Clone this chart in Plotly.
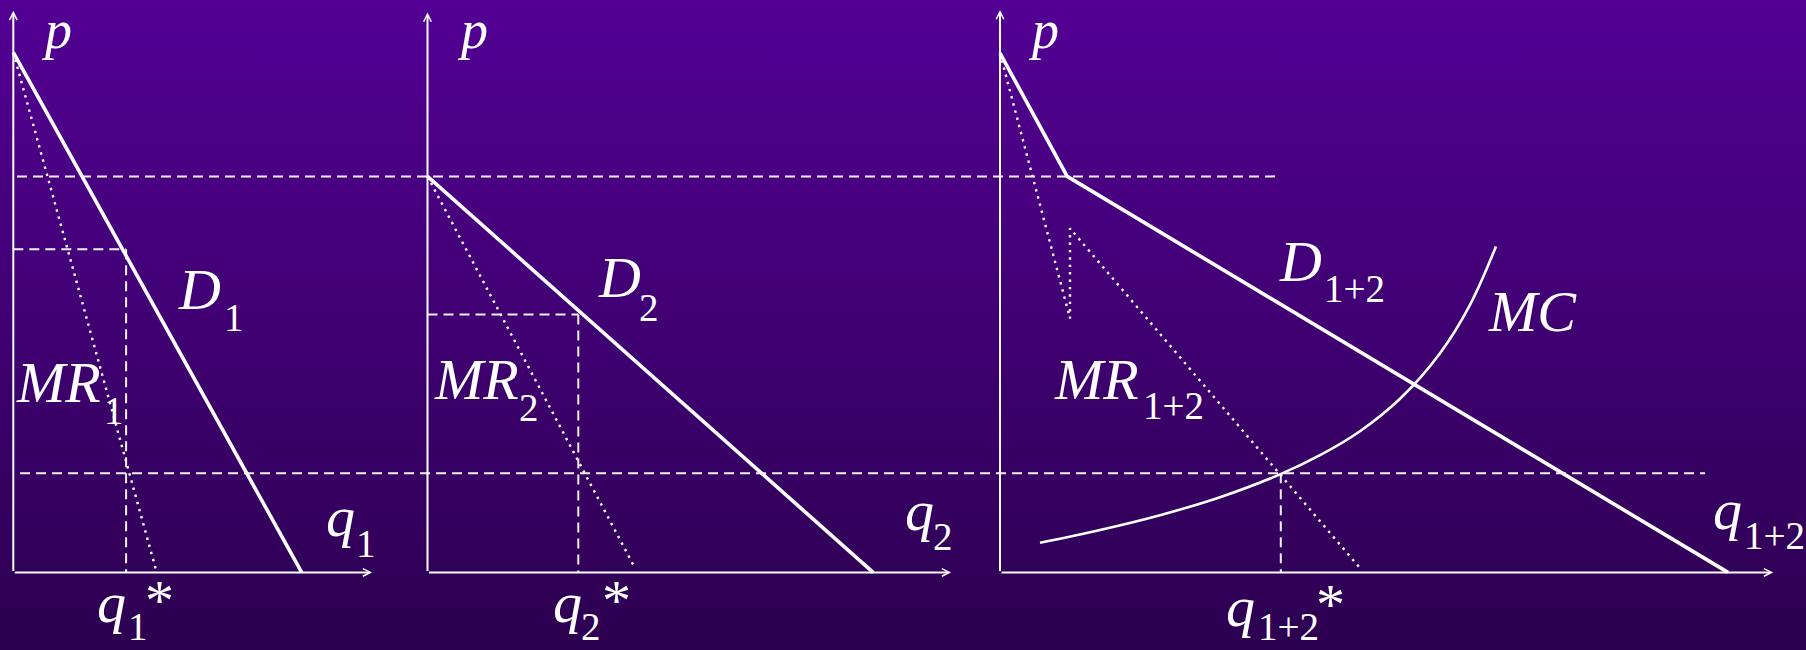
import plotly.graph_objects as go

W, H = 1806, 650

# ---------------- data (price / quantity units) ----------------
PRICE_RANGE = [-1.94, 14.31]

# Market 1
d1_q = [0, 7.21]
d1_p = [13.0, 0]
mr1_q = [0, 3.585]
mr1_p = [13.0, 0]
q1_star = 2.82
p1_star = 8.08

# Market 2
d2_q = [0, 11.14]
d2_p = [9.9, 0]
mr2_q = [0, 5.16]
mr2_p = [9.9, 0.16]
q2_star = 3.77
p2_star = 6.45

# Aggregate market 1+2
d12_q = [0, 1.68, 18.2]
d12_p = [12.98, 9.9, 0]
mr12_q = [0, 1.75, 1.75, 9.05]
mr12_p = [12.98, 6.35, 8.6, 0.05]
mc_q = [1.0, 2.5, 4.0, 5.5, 7.0, 8.0, 9.0, 10.0, 11.0, 11.75, 12.4]
mc_p = [0.74, 1.06, 1.43, 1.88, 2.45, 2.93, 3.53, 4.34, 5.48, 6.69, 8.15]
q12_star = 7.02
mc_level = 2.48
kink_p = 9.9

# axis arrow extents per panel
axis_q_max = [8.97, 13.09, 19.33]
axis_p_max = [14.04, 14.0, 14.06]

# labels: (text, left px, baseline px, size)
BIG, SMALL, PSIZE = 58, 39, 54
labels = [
    ("<i>p</i>", 40, 49, PSIZE),
    ("<i>D</i>", 177, 310, BIG), ("1", 223, 332, SMALL),
    ("<i>MR</i>", 15, 403, BIG), ("1", 103, 425, SMALL),
    ("<i>q</i>", 325, 537, BIG), ("1", 355, 558, SMALL),
    ("<i>q</i>", 96, 623, BIG), ("1", 127, 641, SMALL), ("*", 144, 621, BIG),
    ("<i>p</i>", 456, 49, PSIZE),
    ("<i>D</i>", 597, 298, BIG), ("2", 638, 322, SMALL),
    ("<i>MR</i>", 433, 400, BIG), ("2", 518, 422, SMALL),
    ("<i>q</i>", 904, 531, BIG), ("2", 932, 551, SMALL),
    ("<i>q</i>", 552, 623, BIG), ("2", 580, 641, SMALL), ("*", 601, 621, BIG),
    ("<i>p</i>", 1027, 49, PSIZE),
    ("<i>D</i>", 1278, 282, BIG), ("1+2", 1323, 303, SMALL),
    ("<i>MC</i>", 1487, 332, BIG),
    ("<i>MR</i>", 1053, 400, BIG), ("1+2", 1142, 420, SMALL),
    ("<i>q</i>", 1712, 530, BIG), ("1+2", 1743, 550, SMALL),
    ("<i>q</i>", 1225, 627, BIG), ("1+2", 1257, 641, SMALL), ("*", 1315, 625, BIG),
]

# ---------------- layout helpers ----------------
PX_PER_UNIT = 40.0
origins = [13.3, 427.5, 1000.0]          # pixel x of each panel's origin
xaxes = ["x2", "x3", "x4"]

WHITE = "white"
DASHED = dict(color="#f2f2f2", width=2, dash="10px,6px")
DOTTED = dict(color=WHITE, width=2.4, dash="2.4px,5px")
SOLID = dict(color=WHITE, width=3.6)

fig = go.Figure()

# background gradient
fig.add_trace(go.Scatter(
    x=[0, 1, 1, 0, 0],
    y=[PRICE_RANGE[0], PRICE_RANGE[0], PRICE_RANGE[1], PRICE_RANGE[1], PRICE_RANGE[0]],
    xaxis="x", yaxis="y", mode="lines", line=dict(width=0), fill="toself",
    fillcolor="#3e006e",
    fillgradient=dict(type="vertical", colorscale=[[0, "#2c0050"], [1, "#530094"]]),
    hoverinfo="skip", showlegend=False))


def line(xa, q, p, style, shape="linear"):
    fig.add_trace(go.Scatter(x=q, y=p, xaxis=xa, yaxis="y", mode="lines",
                             line=dict(**style, shape=shape), hoverinfo="skip",
                             showlegend=False))


# Panel 1
line("x2", mr1_q, mr1_p, DOTTED)
line("x2", [0, q1_star], [p1_star, p1_star], DASHED)
line("x2", [q1_star, q1_star], [p1_star, 0], DASHED)
line("x2", d1_q, d1_p, SOLID)

# Panel 2
line("x3", mr2_q, mr2_p, DOTTED)
line("x3", [0, q2_star], [p2_star, p2_star], DASHED)
line("x3", [q2_star, q2_star], [p2_star, 0], DASHED)
line("x3", d2_q, d2_p, SOLID)

# Panel 3
line("x4", mr12_q, mr12_p, DOTTED)
line("x4", [q12_star, q12_star], [mc_level, 0], DASHED)
line("x4", mc_q, mc_p, dict(color=WHITE, width=2.6), shape="spline")
line("x4", d12_q, d12_p, SOLID)

# long horizontal dashed guides across panels
shapes = [
    dict(type="line", xref="x", yref="y", x0=17 / W, x1=1280 / W, y0=kink_p, y1=kink_p,
         line=DASHED, layer="above"),
    dict(type="line", xref="x", yref="y", x0=20 / W, x1=1705 / W, y0=mc_level, y1=mc_level,
         line=DASHED, layer="above"),
]

annotations = []
# axes with arrowheads
for xa, qm, pm in zip(xaxes, axis_q_max, axis_p_max):
    for (tx, ty) in [(qm, 0), (0, pm)]:
        annotations.append(dict(
            x=tx, y=ty, ax=0, ay=0, xref=xa, yref="y", axref=xa, ayref="y",
            text="", showarrow=True, arrowhead=5, arrowsize=0.75, arrowwidth=2,
            arrowcolor=WHITE, standoff=0, startstandoff=0))

for txt, left, base, size in labels:
    bottom = base + 0.216 * size
    annotations.append(dict(
        x=left / W, y=1 - bottom / H, xref="paper", yref="paper",
        xanchor="left", yanchor="bottom", text=txt, showarrow=False, borderpad=0,
        font=dict(family="Liberation Serif", size=size, color=WHITE)))

layout_axes = dict(
    xaxis=dict(domain=[0, 1], range=[0, 1], visible=False, fixedrange=True),
    yaxis=dict(domain=[0, 1], range=PRICE_RANGE, visible=False, fixedrange=True),
)
for xa, o in zip(xaxes, origins):
    layout_axes["xaxis" + xa[1:]] = dict(
        domain=[0, 1], overlaying="x", anchor="y", visible=False, fixedrange=True,
        range=[-o / PX_PER_UNIT, (W - o) / PX_PER_UNIT])

fig.update_layout(
    width=W, height=H, margin=dict(l=0, r=0, t=0, b=0),
    paper_bgcolor="#3e006e", plot_bgcolor="rgba(0,0,0,0)",
    showlegend=False, shapes=shapes, annotations=annotations, **layout_axes)

fig.write_html("out.html", config={"displayModeBar": False},
               post_script="document.body.style.margin='0';document.body.style.overflow='hidden';")
